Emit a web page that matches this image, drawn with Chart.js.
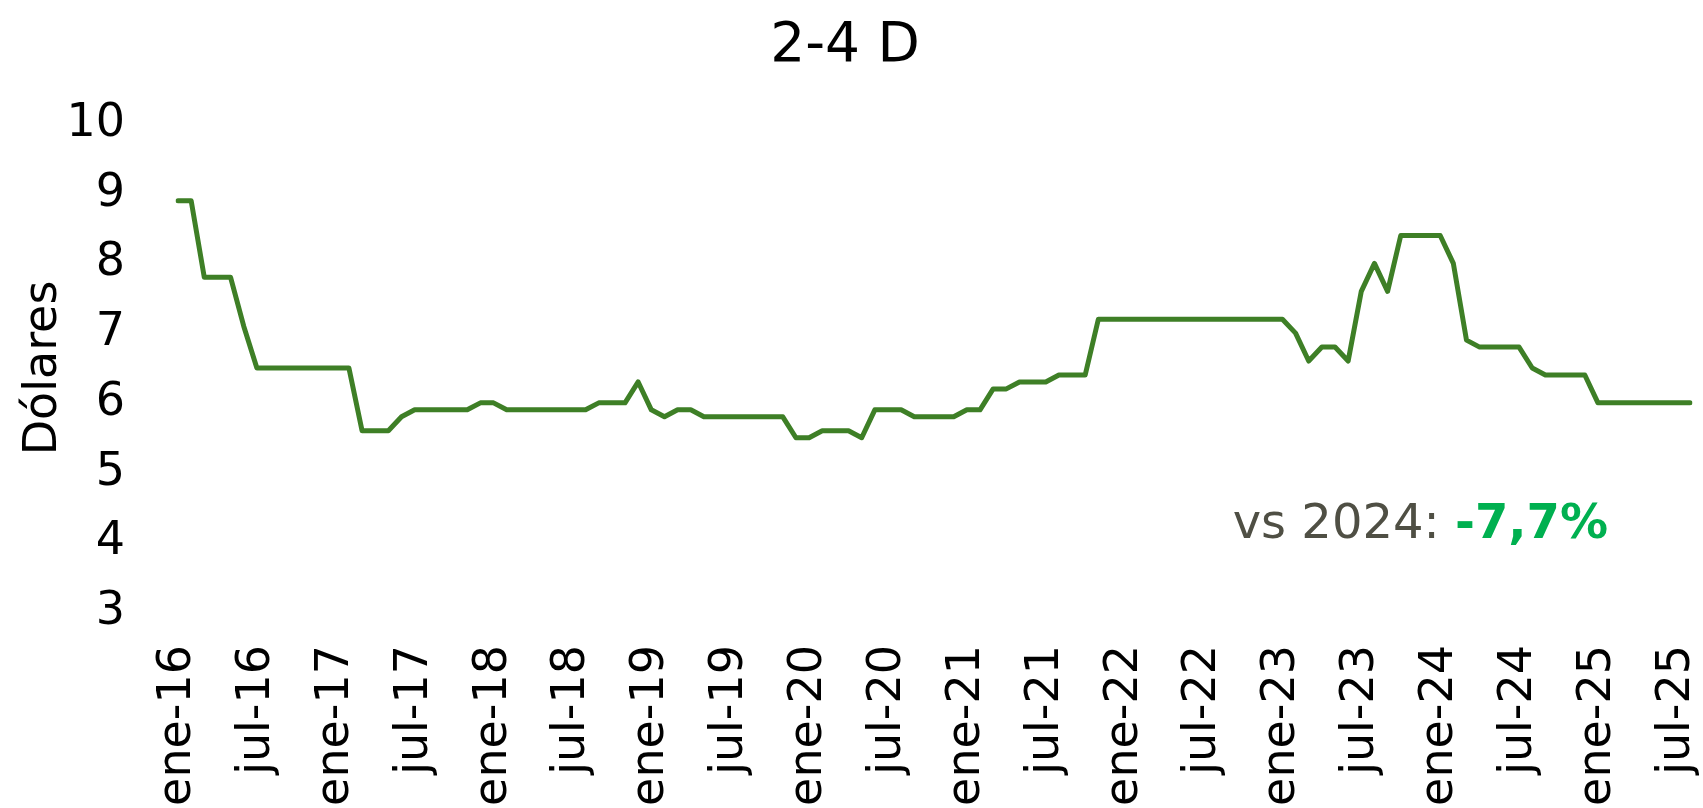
<!DOCTYPE html>
<html>
<head>
<meta charset="utf-8">
<script src="https://cdn.jsdelivr.net/npm/chart.js@4"></script>
<style>
html, body { margin: 0; padding: 0; background: #fff; }
#wrap { width: 1703px; height: 808px; position: relative; }
</style>
</head>
<body>
<div id="wrap"><canvas id="priceChart"></canvas></div>
<script>
// Meses y años del eje X (ene-16 ... ago-25)
var meses = ['ene', 'feb', 'mar', 'abr', 'may', 'jun', 'jul', 'ago', 'sep', 'oct', 'nov', 'dic'];
var anios = ['16', '17', '18', '19', '20', '21', '22', '23', '24', '25'];
var etiquetas = [];
anios.forEach(function (a) {
  meses.forEach(function (m) { etiquetas.push(m + '-' + a); });
});
etiquetas = etiquetas.slice(0, 116);

// Etiquetas que se muestran en el eje (cada 6 meses)
var ticksVisibles = ['ene-16', 'jul-16', 'ene-17', 'jul-17', 'ene-18', 'jul-18', 'ene-19', 'jul-19',
  'ene-20', 'jul-20', 'ene-21', 'jul-21', 'ene-22', 'jul-22', 'ene-23', 'jul-23',
  'ene-24', 'jul-24', 'ene-25', 'jul-25'];

// Precio mensual en dólares
var precios = [
  8.9, 8.9, 7.8, 7.8, 7.8, 7.1, 6.5, 6.5, 6.5, 6.5, 6.5, 6.5,   // 2016
  6.5, 6.5, 5.6, 5.6, 5.6, 5.8, 5.9, 5.9, 5.9, 5.9, 5.9, 6.0,   // 2017
  6.0, 5.9, 5.9, 5.9, 5.9, 5.9, 5.9, 5.9, 6.0, 6.0, 6.0, 6.3,   // 2018
  5.9, 5.8, 5.9, 5.9, 5.8, 5.8, 5.8, 5.8, 5.8, 5.8, 5.8, 5.5,   // 2019
  5.5, 5.6, 5.6, 5.6, 5.5, 5.9, 5.9, 5.9, 5.8, 5.8, 5.8, 5.8,   // 2020
  5.9, 5.9, 6.2, 6.2, 6.3, 6.3, 6.3, 6.4, 6.4, 6.4, 7.2, 7.2,   // 2021
  7.2, 7.2, 7.2, 7.2, 7.2, 7.2, 7.2, 7.2, 7.2, 7.2, 7.2, 7.2,   // 2022
  7.2, 7.0, 6.6, 6.8, 6.8, 6.6, 7.6, 8.0, 7.6, 8.4, 8.4, 8.4,   // 2023
  8.4, 8.0, 6.9, 6.8, 6.8, 6.8, 6.8, 6.5, 6.4, 6.4, 6.4, 6.4,   // 2024
  6.0, 6.0, 6.0, 6.0, 6.0, 6.0, 6.0, 6.0                        // 2025
];

var titulo = '2-4 D';
var tituloEjeY = 'Dólares';
var nota = { texto: 'vs 2024: ', valor: '-7,7%' };

var fuente = '"DejaVu Sans", sans-serif';

// texto "vs 2024: -7,7%" dentro del área del gráfico
var notaPlugin = {
  id: 'nota',
  afterDraw: function (chart) {
    var c = chart.ctx;
    var area = chart.chartArea;
    c.save();
    c.textBaseline = 'middle';
    c.textAlign = 'left';
    c.font = 'bold 48px ' + fuente;
    var w2 = c.measureText(nota.valor).width;
    c.font = 'normal 48px ' + fuente;
    var w1 = c.measureText(nota.texto).width;
    var xDer = area.right - 82;
    var y = area.bottom - 86;
    c.fillStyle = '#4f4f44';
    c.fillText(nota.texto, xDer - w2 - w1, y);
    c.font = 'bold 48px ' + fuente;
    c.fillStyle = '#00b050';
    c.fillText(nota.valor, xDer - w2, y);
    c.restore();
  }
};

var ctx = document.getElementById('priceChart').getContext('2d');
var priceChart = new Chart(ctx, {
  type: 'line',
  data: {
    labels: etiquetas,
    datasets: [{
      label: titulo,
      data: precios,
      borderColor: '#3e7f26',
      backgroundColor: '#3e7f26',
      borderWidth: 5,
      pointRadius: 0,
      tension: 0,
      borderJoinStyle: 'round',
      borderCapStyle: 'round'
    }]
  },
  options: {
    responsive: true,
    maintainAspectRatio: false,
    animation: false,
    layout: { padding: { left: 0, right: 13, top: 0, bottom: 0 } },
    plugins: {
      legend: { display: false },
      tooltip: { enabled: false },
      title: {
        display: true,
        text: titulo,
        color: '#000',
        font: { family: fuente, size: 55, weight: 'normal' },
        padding: { top: 14, bottom: 44 }
      }
    },
    scales: {
      x: {
        grid: { display: false, drawTicks: false },
        border: { display: false },
        afterFit: function (scale) {
          scale.height = 196;
          scale.paddingLeft = 0;
          scale.paddingRight = 0;
        },
        ticks: {
          autoSkip: false,
          maxRotation: 90,
          minRotation: 90,
          padding: 33,
          color: '#000',
          font: { family: fuente, size: 46 },
          callback: function (val, i) {
            var lab = etiquetas[i];
            return ticksVisibles.indexOf(lab) >= 0 ? lab : '';
          }
        }
      },
      y: {
        min: 3,
        max: 10,
        grid: { display: false, drawTicks: false },
        border: { display: false },
        afterFit: function (scale) { scale.width = 178; },
        title: {
          display: true,
          text: tituloEjeY,
          color: '#000',
          font: { family: fuente, size: 46 },
          padding: { top: 16, bottom: 0 }
        },
        ticks: {
          stepSize: 1,
          padding: 53,
          color: '#000',
          font: { family: fuente, size: 46 }
        }
      }
    }
  },
  plugins: [notaPlugin]
});
</script>
</body>
</html>
